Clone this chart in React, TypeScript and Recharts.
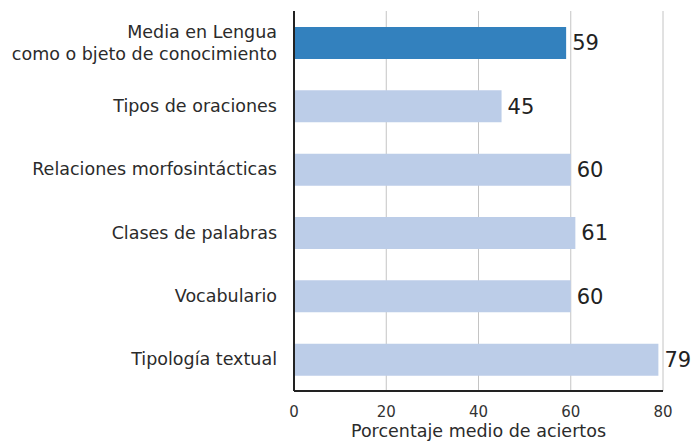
import { BarChart, Bar, XAxis, YAxis, CartesianGrid, Cell, LabelList } from 'recharts'

const categories = [
  'Media en Lengua\ncomo o bjeto de conocimiento',
  'Tipos de oraciones',
  'Relaciones morfosintácticas',
  'Clases de palabras',
  'Vocabulario',
  'Tipología textual',
]
const values = [59, 45, 60, 61, 60, 79]
const xTicks = [0, 20, 40, 60, 80]

const FONT = "'DejaVu Sans', sans-serif"
const data = categories.map((name, i) => ({ name, value: values[i] }))

// eslint-disable-next-line @typescript-eslint/no-explicit-any
function CategoryTick({ x, y, payload }: any) {
  const lines = String(payload.value).split('\n')
  const lh = 22
  const start = -((lines.length - 1) * lh) / 2
  return (
    <text x={x} y={y} textAnchor="end" fill="#2b2b2b" fontFamily={FONT} fontSize={17.5}>
      {lines.map((l, i) => (
        <tspan key={i} x={x} dy={i === 0 ? start + 6 : lh}>{l}</tspan>
      ))}
    </text>
  )
}

export default function App() {
  return (
    <div style={{ position: 'absolute', left: 0, top: 0, background: '#fff' }}>
      <BarChart
        width={692}
        height={441}
        data={data}
        layout="vertical"
        margin={{ top: 11, right: 29, left: 0, bottom: 0 }}
      >
        <CartesianGrid horizontal={false} stroke="#c4c4c4" strokeWidth={1} />
        <XAxis
          type="number"
          domain={[0, 80]}
          ticks={xTicks}
          axisLine={{ stroke: '#222', strokeWidth: 2 }}
          tickLine={false}
          tickMargin={9}
          tick={{ fontFamily: FONT, fontSize: 15, fill: '#333' }}
          height={50}
          label={{
            value: 'Porcentaje medio de aciertos',
            position: 'insideBottom',
            offset: 4,
            fontFamily: FONT,
            fontSize: 17.5,
            fill: '#2b2b2b',
          }}
        />
        <YAxis
          type="category"
          dataKey="name"
          width={294}
          axisLine={{ stroke: '#222', strokeWidth: 2 }}
          tickLine={false}
          tickMargin={11}
          tick={<CategoryTick />}
        />
        <Bar dataKey="value" barSize={32} isAnimationActive={false}>
          {data.map((d, i) => (
            <Cell key={d.name} fill={i === 0 ? '#3381be' : '#bccde8'} />
          ))}
          <LabelList
            dataKey="value"
            position="right"
            offset={6}
            fill="#222"
            fontFamily={FONT}
            fontSize={21}
          />
        </Bar>
      </BarChart>
    </div>
  )
}
